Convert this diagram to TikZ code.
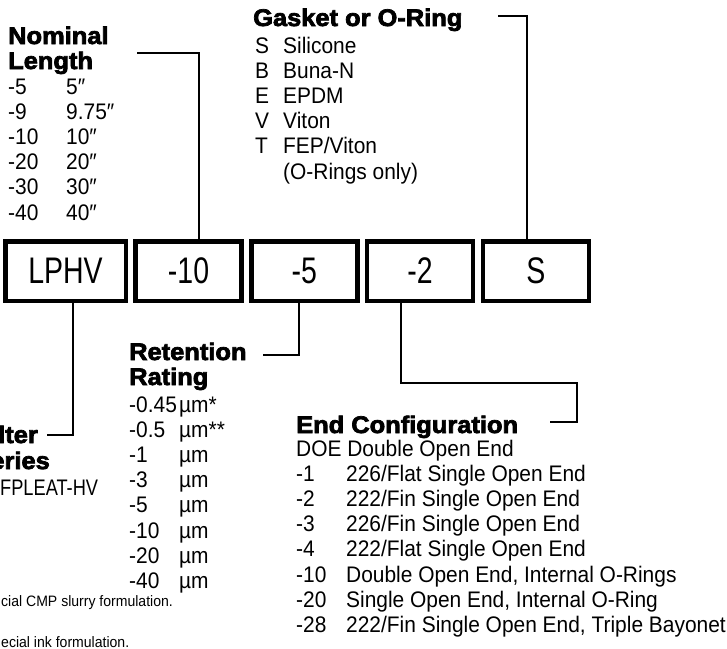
\documentclass[tikz,border=0pt]{standalone}
\usepackage{fontspec}
\setmainfont{Liberation Sans}[FakeStretch=0.93]
\newfontfamily\headfont{Liberation Sans}[FakeStretch=1.06,FakeBold=3]
\newfontfamily\boxfont{Liberation Sans}[FakeStretch=0.77]
\newfontfamily\narrowfont{Liberation Sans}[FakeStretch=0.81]
\usetikzlibrary{positioning}

\begin{document}
\begin{tikzpicture}[
    x=1pt, y=-1pt,
    codebox/.style={draw, line width=4.5pt, minimum width=106pt, minimum height=59.5pt,
      inner sep=0pt, font=\boxfont\fontsize{37}{40}\selectfont},
    lead/.style={line width=2pt},
    head/.style={anchor=base west, inner sep=0pt, font=\headfont\bfseries\fontsize{24}{25}\selectfont},
    body/.style={anchor=base west, inner sep=0pt, font=\fontsize{22.5}{25.2}\selectfont},
    note/.style={anchor=base west, inner sep=0pt, font=\fontsize{15.1}{18}\selectfont}
  ]
  \useasboundingbox (0,0) rectangle (727,648);
  \clip (0,0) rectangle (727,648);

  % part number boxes
  \node[codebox, minimum width=120.5pt] (series) at (65.5,271) {LPHV};
  \node[codebox, right=5.3pt of series] (length) {-10};
  \node[codebox, right=5.3pt of length] (rating) {-5};
  \node[codebox, right=5.3pt of rating] (endcfg) {-2};
  \node[codebox, right=5.3pt of endcfg] (gasket) {S};

  % nominal length
  \node[head] (lentitle) at (8,44) {\begin{tabular}[t]{@{}l@{}}Nominal\\Length\end{tabular}};
  \node[body] (lenlist) at (8,94) {\begin{tabular}[t]{@{}p{58pt}@{}l@{}}
    -5 & 5″\\ -9 & 9.75″\\ -10 & 10″\\ -20 & 20″\\ -30 & 30″\\ -40 & 40″
  \end{tabular}};
  \coordinate (lentip) at (137,53);
  \draw[lead] (lentip) -| ([xshift=10.75]length.north);

  % gasket
  \node[head] (gastitle) at (253,26) {Gasket or O-Ring};
  \node[body] (gaslist) at (255,53) {\begin{tabular}[t]{@{}p{28pt}@{}l@{}}
    S & Silicone\\ B & Buna-N\\ E & EPDM\\ V & Viton\\ T & FEP/Viton\\ & (O-Rings only)
  \end{tabular}};
  \coordinate (gastip) at (498,16);
  \draw[lead] (gastip) -| ([xshift=-9]gasket.north);

  % filter series (cut at the left edge)
  \node[head, anchor=base east] (sertitle1) at (38,443) {lter};
  \node[head, anchor=base east] (sertitle2) at (50,469) {eries};
  \node[body, font=\narrowfont\fontsize{22.5}{25.2}\selectfont] (serlist) at (0,495) {FPLEAT-HV};
  \coordinate (sertip) at (47,435);
  \draw[lead] ([xshift=7.5]series.south) |- (sertip);

  % retention rating
  \node[head] (rettitle) at (129,360) {\begin{tabular}[t]{@{}l@{}}Retention\\Rating\end{tabular}};
  \node[body] (retlist) at (129,412) {\begin{tabular}[t]{@{}p{50pt}@{}l@{}}
    \mbox{-0.45} & µm*\\ \mbox{-0.5} & µm**\\ -1 & µm\\ -3 & µm\\ -5 & µm\\ -10 & µm\\ -20 & µm\\ -40 & µm
  \end{tabular}};
  \coordinate (rettip) at (263,355);
  \draw[lead] ([xshift=-5]rating.south) |- (rettip);

  % end configuration
  \node[head] (endtitle) at (296,433) {End Configuration};
  \node[body] (endlist) at (296,456) {\begin{tabular}[t]{@{}p{50pt}@{}l@{}}
    \multicolumn{2}{@{}l@{}}{DOE Double Open End}\\
    -1 & 226/Flat Single Open End\\
    -2 & 222/Fin Single Open End\\
    -3 & 226/Fin Single Open End\\
    -4 & 222/Flat Single Open End\\
    -10 & Double Open End, Internal O-Rings\\
    -20 & Single Open End, Internal O-Ring\\
    -28 & 222/Fin Single Open End, Triple Bayonet
  \end{tabular}};
  \coordinate (endbend) at (577,383);
  \coordinate (endtip) at (550,422);
  \draw[lead] ([xshift=-19]endcfg.south) |- (endbend) |- (endtip);

  % footnotes (cut at the left edge)
  \node[note] (note1) at (1,606) {cial CMP slurry formulation.};
  \node[note] (note2) at (1,647.5) {ecial ink formulation.};
\end{tikzpicture}
\end{document}
